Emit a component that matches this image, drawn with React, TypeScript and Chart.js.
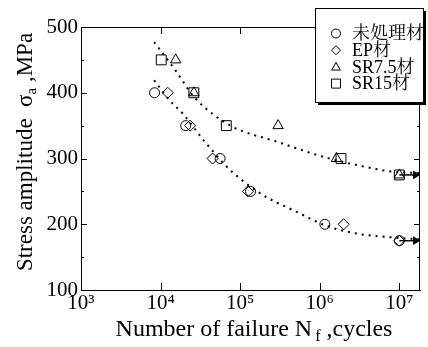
import React, { useEffect, useRef } from 'react';
import { Chart, registerables } from 'chart.js';

Chart.register(...registerables);

const SERIF = '"Liberation Serif", "Times New Roman", "Noto Serif CJK JP", "Noto Sans CJK JP", serif';

// axis ticks
const decadeTicks = [1e3, 1e4, 1e5, 1e6, 1e7];
const decadeLabels = ['10\u00B3', '10\u2074', '10\u2075', '10\u2076', '10\u2077'];
const stressTicks = [100, 200, 300, 400, 500];
const stressMinorTicks = [150, 250, 350, 450];

// measured points (N cycles, stress MPa)
const untreatedN = [8.4e3, 2.07e4, 5.6e4, 1.35e5, 1.16e6, 1e7];
const untreatedS = [400, 350, 300, 250, 200, 175];
const epN = [1.23e4, 2.35e4, 4.5e4, 1.25e5, 2.0e6, 1e7];
const epS = [400, 350, 300, 250, 200, 175];
const sr75N = [1.55e4, 2.62e4, 3.0e5, 1.62e6, 1e7];
const sr75S = [450, 400, 350, 300, 275];
const sr15N = [1.02e4, 2.62e4, 6.7e4, 1.85e6, 1e7];
const sr15S = [450, 400, 350, 300, 275];

// dotted fit curves
const upperFitN = [8.3e3, 1.54e4, 2.62e4, 7.3e4, 3.0e5, 1.23e6, 3.2e6, 8.2e6, 1.8e7];
const upperFitS = [477, 434, 394, 351, 325, 301, 289, 280, 278];
const lowerFitN = [8.3e3, 1.29e4, 1.88e4, 3.47e4, 7.4e4, 1.9e5, 4.9e5, 1.25e6, 3.2e6, 8.2e6, 1.82e7];
const lowerFitS = [419, 389, 369, 328, 283, 245, 220, 197, 185, 180, 177];

// run-out arrows
const runoutStartN = 1e7;
const runoutEndN = 1.6e7;
const runoutS = [275, 175];

const legendLabels = ['未処理材', 'EP材', 'SR7.5材', 'SR15材'];
const legendStyles = ['circle', 'diamond', 'triangle', 'square'];

type Part = { t: string; s: number; dy?: number; pre?: number };

function richWidth(ctx: CanvasRenderingContext2D, parts: Part[]) {
  let w = 0;
  parts.forEach((p) => {
    ctx.font = `${p.s}px ${SERIF}`;
    w += (p.pre || 0) + ctx.measureText(p.t).width;
  });
  return w;
}

function drawRich(ctx: CanvasRenderingContext2D, parts: Part[], cx: number, by: number) {
  const total = richWidth(ctx, parts);
  let x = cx - total / 2;
  ctx.textBaseline = 'alphabetic';
  ctx.textAlign = 'left';
  parts.forEach((p) => {
    ctx.font = `${p.s}px ${SERIF}`;
    x += p.pre || 0;
    ctx.fillText(p.t, x, by + (p.dy || 0));
    x += ctx.measureText(p.t).width;
  });
}

function drawMarker(ctx: CanvasRenderingContext2D, style: string, x: number, y: number, r: number) {
  ctx.beginPath();
  if (style === 'circle') {
    ctx.arc(x, y, r, 0, Math.PI * 2);
  } else if (style === 'diamond') {
    ctx.moveTo(x, y - r);
    ctx.lineTo(x + r, y);
    ctx.lineTo(x, y + r);
    ctx.lineTo(x - r, y);
    ctx.closePath();
  } else if (style === 'triangle') {
    ctx.moveTo(x, y - r);
    ctx.lineTo(x + r * 0.95, y + r * 0.7);
    ctx.lineTo(x - r * 0.95, y + r * 0.7);
    ctx.closePath();
  } else {
    ctx.rect(x - r, y - r, 2 * r, 2 * r);
  }
  ctx.stroke();
}

const decorPlugin = {
  id: 'decor',
  afterDraw(chart: any) {
    const { ctx, chartArea: a, scales } = chart;
    const xs = scales.x;
    const ys = scales.y;
    ctx.save();
    ctx.strokeStyle = '#000';
    ctx.fillStyle = '#000';
    ctx.lineWidth = 1;
    ctx.beginPath();
    // top & right spines
    ctx.moveTo(a.left, a.top + 0.5);
    ctx.lineTo(a.right, a.top + 0.5);
    ctx.moveTo(a.right - 0.5, a.top);
    ctx.lineTo(a.right - 0.5, a.bottom);
    // inside ticks
    decadeTicks.forEach((v) => {
      const px = Math.round(xs.getPixelForValue(v)) + 0.5;
      ctx.moveTo(px, a.bottom);
      ctx.lineTo(px, a.bottom - 7);
      ctx.moveTo(px, a.top);
      ctx.lineTo(px, a.top + 7);
    });
    stressTicks.forEach((v) => {
      const py = Math.round(ys.getPixelForValue(v)) + 0.5;
      ctx.moveTo(a.left, py);
      ctx.lineTo(a.left + 6, py);
      ctx.moveTo(a.right, py);
      ctx.lineTo(a.right - 6, py);
    });
    stressMinorTicks.forEach((v) => {
      const py = Math.round(ys.getPixelForValue(v)) + 0.5;
      ctx.moveTo(a.left, py);
      ctx.lineTo(a.left + 3, py);
      ctx.moveTo(a.right, py);
      ctx.lineTo(a.right - 3, py);
    });
    ctx.stroke();

    // axis titles
    drawRich(
      ctx,
      [
        { t: 'Number of failure N', s: 24 },
        { t: 'f', s: 16, dy: 5, pre: 3 },
        { t: ' ,cycles', s: 24 },
      ],
      254,
      336
    );
    ctx.save();
    ctx.translate(32, 152);
    ctx.rotate(-Math.PI / 2);
    drawRich(
      ctx,
      [
        { t: 'Stress amplitude  \u03C3', s: 23 },
        { t: 'a', s: 15, dy: 4 },
        { t: ' ,MPa', s: 23 },
      ],
      0,
      0
    );
    ctx.restore();

    // legend box with shadow
    const lx = 315, ly = 8, lw = 108, lh = 94;
    ctx.fillStyle = '#000';
    ctx.fillRect(lx + 3, ly + 3, lw, lh);
    ctx.fillStyle = '#fff';
    ctx.fillRect(lx, ly, lw, lh);
    ctx.strokeRect(lx + 0.5, ly + 0.5, lw, lh);
    ctx.fillStyle = '#000';
    legendLabels.forEach((lab, i) => {
      const cy = 33.5 + i * 16.7;
      ctx.lineWidth = 1;
      drawMarker(ctx, legendStyles[i], 336, cy, 4.5);
      ctx.font = `18px ${SERIF}`;
      ctx.textAlign = 'left';
      ctx.textBaseline = 'middle';
      ctx.fillText(lab, 352, cy + 1);
    });
    ctx.restore();
  },
};

export default function App() {
  const ref = useRef<HTMLCanvasElement>(null);
  useEffect(() => {
    const canvas = ref.current;
    if (!canvas) return;
    const pts = (ns: number[], ss: number[]) => ns.map((n, i) => ({ x: n, y: ss[i] }));
    const marker = (label: string, ns: number[], ss: number[], style: string, r: number) => ({
      label,
      data: pts(ns, ss),
      pointStyle: style,
      pointRadius: r,
      pointHoverRadius: r,
      pointBorderWidth: 1,
      pointBorderColor: '#000',
      pointBackgroundColor: 'rgba(0,0,0,0)',
      borderColor: '#000',
      backgroundColor: 'rgba(0,0,0,0)',
      showLine: false,
    });
    const fit = (label: string, ns: number[], ss: number[]) => ({
      label,
      data: pts(ns, ss),
      showLine: true,
      borderColor: '#000',
      borderWidth: 2,
      borderDash: [2, 5],
      pointRadius: 0,
      pointHoverRadius: 0,
      cubicInterpolationMode: 'monotone',
      fill: false,
    });
    const runout = (s: number) => ({
      label: 'runout',
      data: [
        { x: runoutStartN, y: s },
        { x: runoutEndN, y: s },
      ],
      showLine: true,
      borderColor: '#000',
      borderWidth: 1.5,
      pointRadius: [0, 3.5],
      pointHoverRadius: [0, 3.5],
      pointStyle: 'triangle',
      pointRotation: 90,
      pointBackgroundColor: '#000',
      pointBorderColor: '#000',
    });

    const chart = new Chart(canvas, {
      type: 'scatter',
      data: {
        datasets: [
          fit('upper fit', upperFitN, upperFitS),
          fit('lower fit', lowerFitN, lowerFitS),
          ...runoutS.map(runout),
          marker(legendLabels[0], untreatedN, untreatedS, 'circle', 5),
          marker(legendLabels[1], epN, epS, 'rectRot', 5.5),
          marker(legendLabels[2], sr75N, sr75S, 'triangle', 6),
          marker(legendLabels[3], sr15N, sr15S, 'rect', 7),
        ] as any,
      },
      options: {
        animation: false,
        responsive: false,
        events: [],
        layout: { padding: { top: 27, right: -2, left: 0, bottom: 0 } },
        plugins: { legend: { display: false }, tooltip: { enabled: false } },
        scales: {
          x: {
            type: 'logarithmic',
            min: 1e3,
            max: 1.82e7,
            grid: { display: false, drawTicks: false },
            border: { display: true, color: '#000', width: 1 },
            afterBuildTicks: (s: any) => {
              s.ticks = decadeTicks.map((v) => ({ value: v }));
            },
            afterFit: (s: any) => {
              s.height = 57;
            },
            ticks: {
              autoSkip: false,
              maxRotation: 0,
              padding: 1,
              color: '#000',
              font: { family: SERIF, size: 21 },
              callback: (_v: any, i: number) => decadeLabels[i],
            },
          },
          y: {
            type: 'linear',
            min: 100,
            max: 500,
            grid: { display: false, drawTicks: false },
            border: { display: true, color: '#000', width: 1 },
            afterBuildTicks: (s: any) => {
              s.ticks = stressTicks.map((v) => ({ value: v }));
            },
            afterFit: (s: any) => {
              s.width = 81;
            },
            ticks: {
              padding: 3,
              color: '#000',
              font: { family: SERIF, size: 21 },
              callback: (v: any) => String(v),
            },
          },
        },
      } as any,
      plugins: [decorPlugin],
    });
    return () => chart.destroy();
  }, []);
  return (
    <div style={{ position: 'absolute', left: 0, top: 0, width: 428, height: 347, background: '#fff' }}>
      <canvas ref={ref} width={428} height={347} style={{ display: 'block' }} />
    </div>
  );
}
